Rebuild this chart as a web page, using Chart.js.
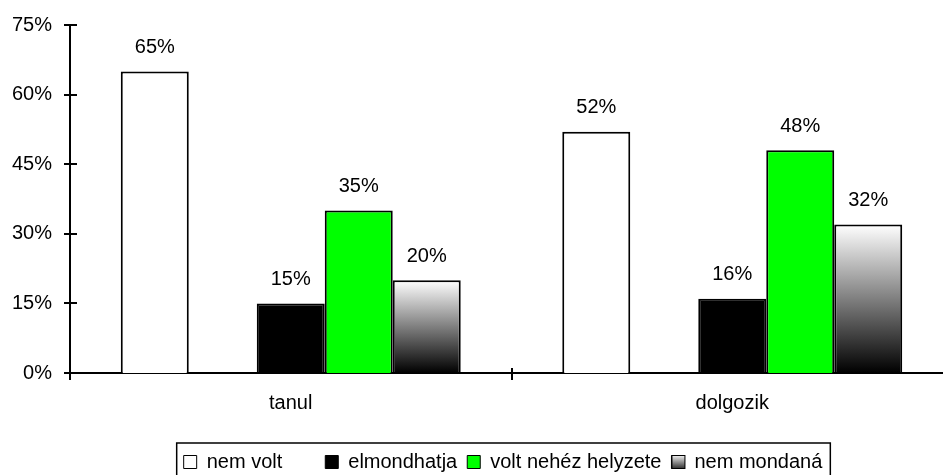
<!DOCTYPE html>
<html>
<head>
<meta charset="utf-8">
<script src="https://cdn.jsdelivr.net/npm/chart.js@4.4.1/dist/chart.umd.min.js"></script>
<style>
    body { margin: 0; overflow: hidden; background: #fff; }
    #wrap { position: absolute; left: 0; top: 0; width: 960px; height: 482px; }
</style>
</head>
<body>
<div id="wrap"><canvas id="valaszChart"></canvas></div>
<script>
const categories = ['tanul', 'dolgozik'];
const seriesNames = ['nem volt', '', 'elmondhatja', 'volt nehéz helyzete', 'nem mondaná'];
const nemVolt = [65, 52];
const ures = [null, null]; // the empty slot between the first and second bar
const elmondhatja = [15, 16];
const nehezHelyzet = [35, 48];
const nemMondana = [20, 32];
const yTicks = [0, 15, 30, 45, 60, 75];

const FONT = { family: "'Liberation Sans', Arial, sans-serif", size: 20 };

function gradientFill(context) {
    const chart = context.chart;
    const y = chart.scales.y;
    if (!y || context.raw == null) return '#808080';
    const top = y.getPixelForValue(context.raw);
    const bottom = y.getPixelForValue(0);
    if (!isFinite(top) || !isFinite(bottom) || top === bottom) return '#808080';
    const g = chart.ctx.createLinearGradient(0, top, 0, bottom);
    g.addColorStop(0, '#ffffff');
    g.addColorStop(1, '#000000');
    return g;
}

// tick marks that cross the axis lines, like the original
const crossTicks = {
    id: 'crossTicks',
    afterDraw(chart) {
        const ctx = chart.ctx;
        const x = chart.scales.x;
        const y = chart.scales.y;
        ctx.save();
        ctx.strokeStyle = '#000';
        ctx.lineWidth = 2;
        ctx.beginPath();
        yTicks.forEach(v => {
            const py = Math.round(y.getPixelForValue(v));
            ctx.moveTo(x.left - 6, py);
            ctx.lineTo(x.left + 7, py);
        });
        const catW = (x.right - x.left) / categories.length;
        for (let i = 0; i <= categories.length; i++) {
            const px = Math.round(x.left + i * catW);
            ctx.moveTo(px, y.bottom - 5);
            ctx.lineTo(px, y.bottom + 7);
        }
        ctx.stroke();
        ctx.restore();
    }
};

// percentage labels above the bars
const barLabels = {
    id: 'barLabels',
    afterDatasetsDraw(chart) {
        const ctx = chart.ctx;
        ctx.save();
        ctx.font = FONT.size + 'px ' + FONT.family;
        ctx.fillStyle = '#000';
        ctx.textAlign = 'center';
        ctx.textBaseline = 'middle';
        chart.data.datasets.forEach((ds, i) => {
            chart.getDatasetMeta(i).data.forEach((bar, j) => {
                const v = ds.data[j];
                if (v == null) return;
                ctx.fillText(v + '%', bar.x, bar.y - 24);
            });
        });
        ctx.restore();
    }
};

// move the legend where it sits in the original and draw its frame
const legendFrame = {
    id: 'legendFrame',
    afterLayout(chart) {
        const lg = chart.legend;
        if (!lg) return;
        const shift = 508 - (lg.left + lg.right + 10) / 2;
        lg.left += shift;
        lg.right += shift;
    },
    afterDraw(chart) {
        const lg = chart.legend;
        const hb = lg && lg.legendHitBoxes;
        if (!hb || !hb.length) return;
        const ctx = chart.ctx;
        const last = hb[hb.length - 1];
        const left = hb[0].left - 7;
        const right = last.left + last.width + 8;
        const top = hb[0].top - 9;
        ctx.save();
        ctx.strokeStyle = '#000';
        ctx.lineWidth = 1.5;
        ctx.strokeRect(left, top, right - left, 36);
        // gradient swatch for the last series
        const bx = last.left + 0.5;
        const by = last.top + 3.5;
        const g = ctx.createLinearGradient(0, by, 0, by + 13);
        g.addColorStop(0, '#f0f0f0');
        g.addColorStop(1, '#303030');
        ctx.fillStyle = g;
        ctx.fillRect(bx, by, 13, 13);
        ctx.lineWidth = 1;
        ctx.strokeRect(bx, by, 13, 13);
        ctx.restore();
    }
};

document.addEventListener('DOMContentLoaded', () => {
    const ctx = document.getElementById('valaszChart').getContext('2d');
    Chart.defaults.font.family = FONT.family;
    Chart.defaults.font.size = FONT.size;
    Chart.defaults.color = '#000';

    new Chart(ctx, {
        type: 'bar',
        data: {
            labels: categories,
            datasets: [
                { label: seriesNames[0], data: nemVolt, backgroundColor: '#ffffff', borderColor: '#000', borderWidth: 2 },
                { label: seriesNames[1], data: ures, backgroundColor: 'rgba(0,0,0,0)', borderColor: 'rgba(0,0,0,0)', borderWidth: 0 },
                { label: seriesNames[2], data: elmondhatja, backgroundColor: '#000000', borderColor: '#000', borderWidth: 2 },
                { label: seriesNames[3], data: nehezHelyzet, backgroundColor: '#00ff00', borderColor: '#000', borderWidth: 2 },
                { label: seriesNames[4], data: nemMondana, backgroundColor: gradientFill, borderColor: '#000', borderWidth: 2 }
            ]
        },
        options: {
            responsive: true,
            maintainAspectRatio: false,
            animation: false,
            layout: { padding: { top: 25, right: 7, left: 0, bottom: 0 } },
            datasets: { bar: { categoryPercentage: 0.77, barPercentage: 1.0 } },
            scales: {
                x: {
                    grid: { display: false, drawTicks: true, tickLength: 18 },
                    border: { color: '#000', width: 2 },
                    ticks: { padding: 0, font: FONT, color: '#000' },
                    afterFit(scale) { scale.height = 69; }
                },
                y: {
                    min: 0,
                    max: 75,
                    grid: { display: false, drawTicks: true, tickLength: 18 },
                    border: { color: '#000', width: 2 },
                    ticks: {
                        stepSize: 15,
                        padding: 0,
                        font: FONT,
                        color: '#000',
                        callback: v => v + '%'
                    },
                    afterFit(scale) { scale.width = 70; }
                }
            },
            plugins: {
                tooltip: { enabled: false },
                legend: {
                    position: 'bottom',
                    labels: {
                        boxWidth: 13,
                        boxHeight: 13,
                        padding: 10,
                        font: FONT,
                        color: '#000',
                        generateLabels(chart) {
                            const items = Chart.defaults.plugins.legend.labels.generateLabels(chart);
                            items.forEach(it => {
                                if (it.text) {
                                    it.lineWidth = 1;
                                    it.strokeStyle = '#000';
                                }
                                if (it.text === 'nem mondaná') it.fillStyle = '#808080';
                            });
                            return items;
                        }
                    }
                }
            }
        },
        plugins: [crossTicks, barLabels, legendFrame]
    });
});
</script>
</body>
</html>
